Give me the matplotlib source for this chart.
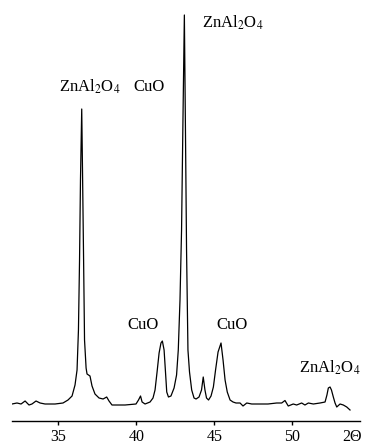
import matplotlib
matplotlib.use("Agg")
import matplotlib.pyplot as plt
import matplotlib.transforms as mtransforms

plt.rcParams['font.family'] = ['Liberation Serif', 'DejaVu Serif']
plt.rcParams['mathtext.fontset'] = 'stix'

# XRD pattern (2theta in degrees, intensity in arb. units)
two_theta = [32.03, 32.35, 32.61, 32.87, 33.12, 33.31, 33.57, 33.83, 34.15, 34.79,
             35.30, 35.62, 35.88, 36.07, 36.20, 36.29, 36.36, 36.42, 36.50, 36.55,
             36.62, 36.68, 36.78, 36.84, 37.03, 37.16, 37.35, 37.61, 37.87, 38.10,
             38.25, 38.44, 39.28, 39.98, 40.14, 40.27, 40.37, 40.56, 40.88, 41.07,
             41.20, 41.33, 41.46, 41.58, 41.67, 41.78, 41.87, 41.95, 42.06, 42.22,
             42.42, 42.58, 42.69, 42.80, 42.90, 42.99, 43.08, 43.15, 43.22, 43.31,
             43.41, 43.55, 43.70, 43.83, 44.02, 44.18, 44.29, 44.40, 44.50, 44.63,
             44.79, 44.94, 45.08, 45.24, 45.43, 45.56, 45.69, 45.83, 46.01, 46.20,
             46.39, 46.65, 46.84, 47.08, 47.40, 47.93, 48.44, 49.00, 49.32, 49.53,
             49.74, 50.06, 50.28, 50.60, 50.81, 51.03, 51.35, 51.78, 52.10, 52.22,
             52.31, 52.42, 52.51, 52.63, 52.74, 52.85, 53.06, 53.27, 53.49, 53.70]
intensity = [17, 18, 17, 20, 16, 17, 20, 18, 17, 17,
             18, 21, 25, 36, 51, 91, 161, 241, 312, 251,
             161, 81, 53, 47, 45, 35, 27, 23, 22, 24,
             20, 16, 16, 17, 21, 25, 19, 17, 19, 23,
             31, 49, 68, 78, 80, 71, 49, 29, 24, 25,
             33, 46, 71, 121, 191, 301, 406, 291, 171, 71,
             49, 31, 23, 22, 24, 31, 44, 31, 23, 21,
             25, 34, 51, 69, 78, 61, 41, 29, 21, 19,
             18, 18, 15, 18, 17, 17, 17, 18, 18, 20.5,
             15, 17, 16, 18, 16, 18, 17, 18, 19, 26,
             33, 34, 31, 24, 18, 14, 17, 16, 14, 11]

tick_values = [35, 40, 45, 50]

# phase labels: (text, 2theta of left edge, intensity of centre)
labels = [(r'ZnAl$_2$O$_4$', 44.19, 398),
          (r'ZnAl$_2$O$_4$', 35.04, 334),
          ('CuO', 39.79, 334),
          ('CuO', 39.40, 96),
          ('CuO', 45.11, 96),
          (r'ZnAl$_2$O$_4$', 50.43, 53)]

fig = plt.figure(figsize=(3.67, 4.46), dpi=100)
ax = fig.add_axes([12/367, 25/446, 348/367, 421/446])

ax.plot(two_theta, intensity, color='black', lw=0.9)

ax.set_xlim(32.03, 54.34)
ax.set_ylim(0, 421)
for s in ['top', 'left', 'right']:
    ax.spines[s].set_visible(False)
ax.spines['bottom'].set_linewidth(1.0)
ax.set_yticks([])
ax.set_xticks(tick_values)
ax.tick_params(axis='x', direction='out', length=3, width=1.0, pad=3, labelsize=11.5)

for txt, x, y in labels:
    ax.text(x, y, txt, fontsize=12, ha='left', va='center', clip_on=False)

# 2-theta axis name sits in the tick label row
trans = mtransforms.blended_transform_factory(ax.transData, ax.transAxes)
trans = trans + mtransforms.ScaledTranslation(0, -6/72, fig.dpi_scale_trans)
ax.text(53.83, 0, '2\u0398', transform=trans, fontsize=11.5, ha='center', va='top',
        clip_on=False)

fig.savefig('out.png', dpi=100)
